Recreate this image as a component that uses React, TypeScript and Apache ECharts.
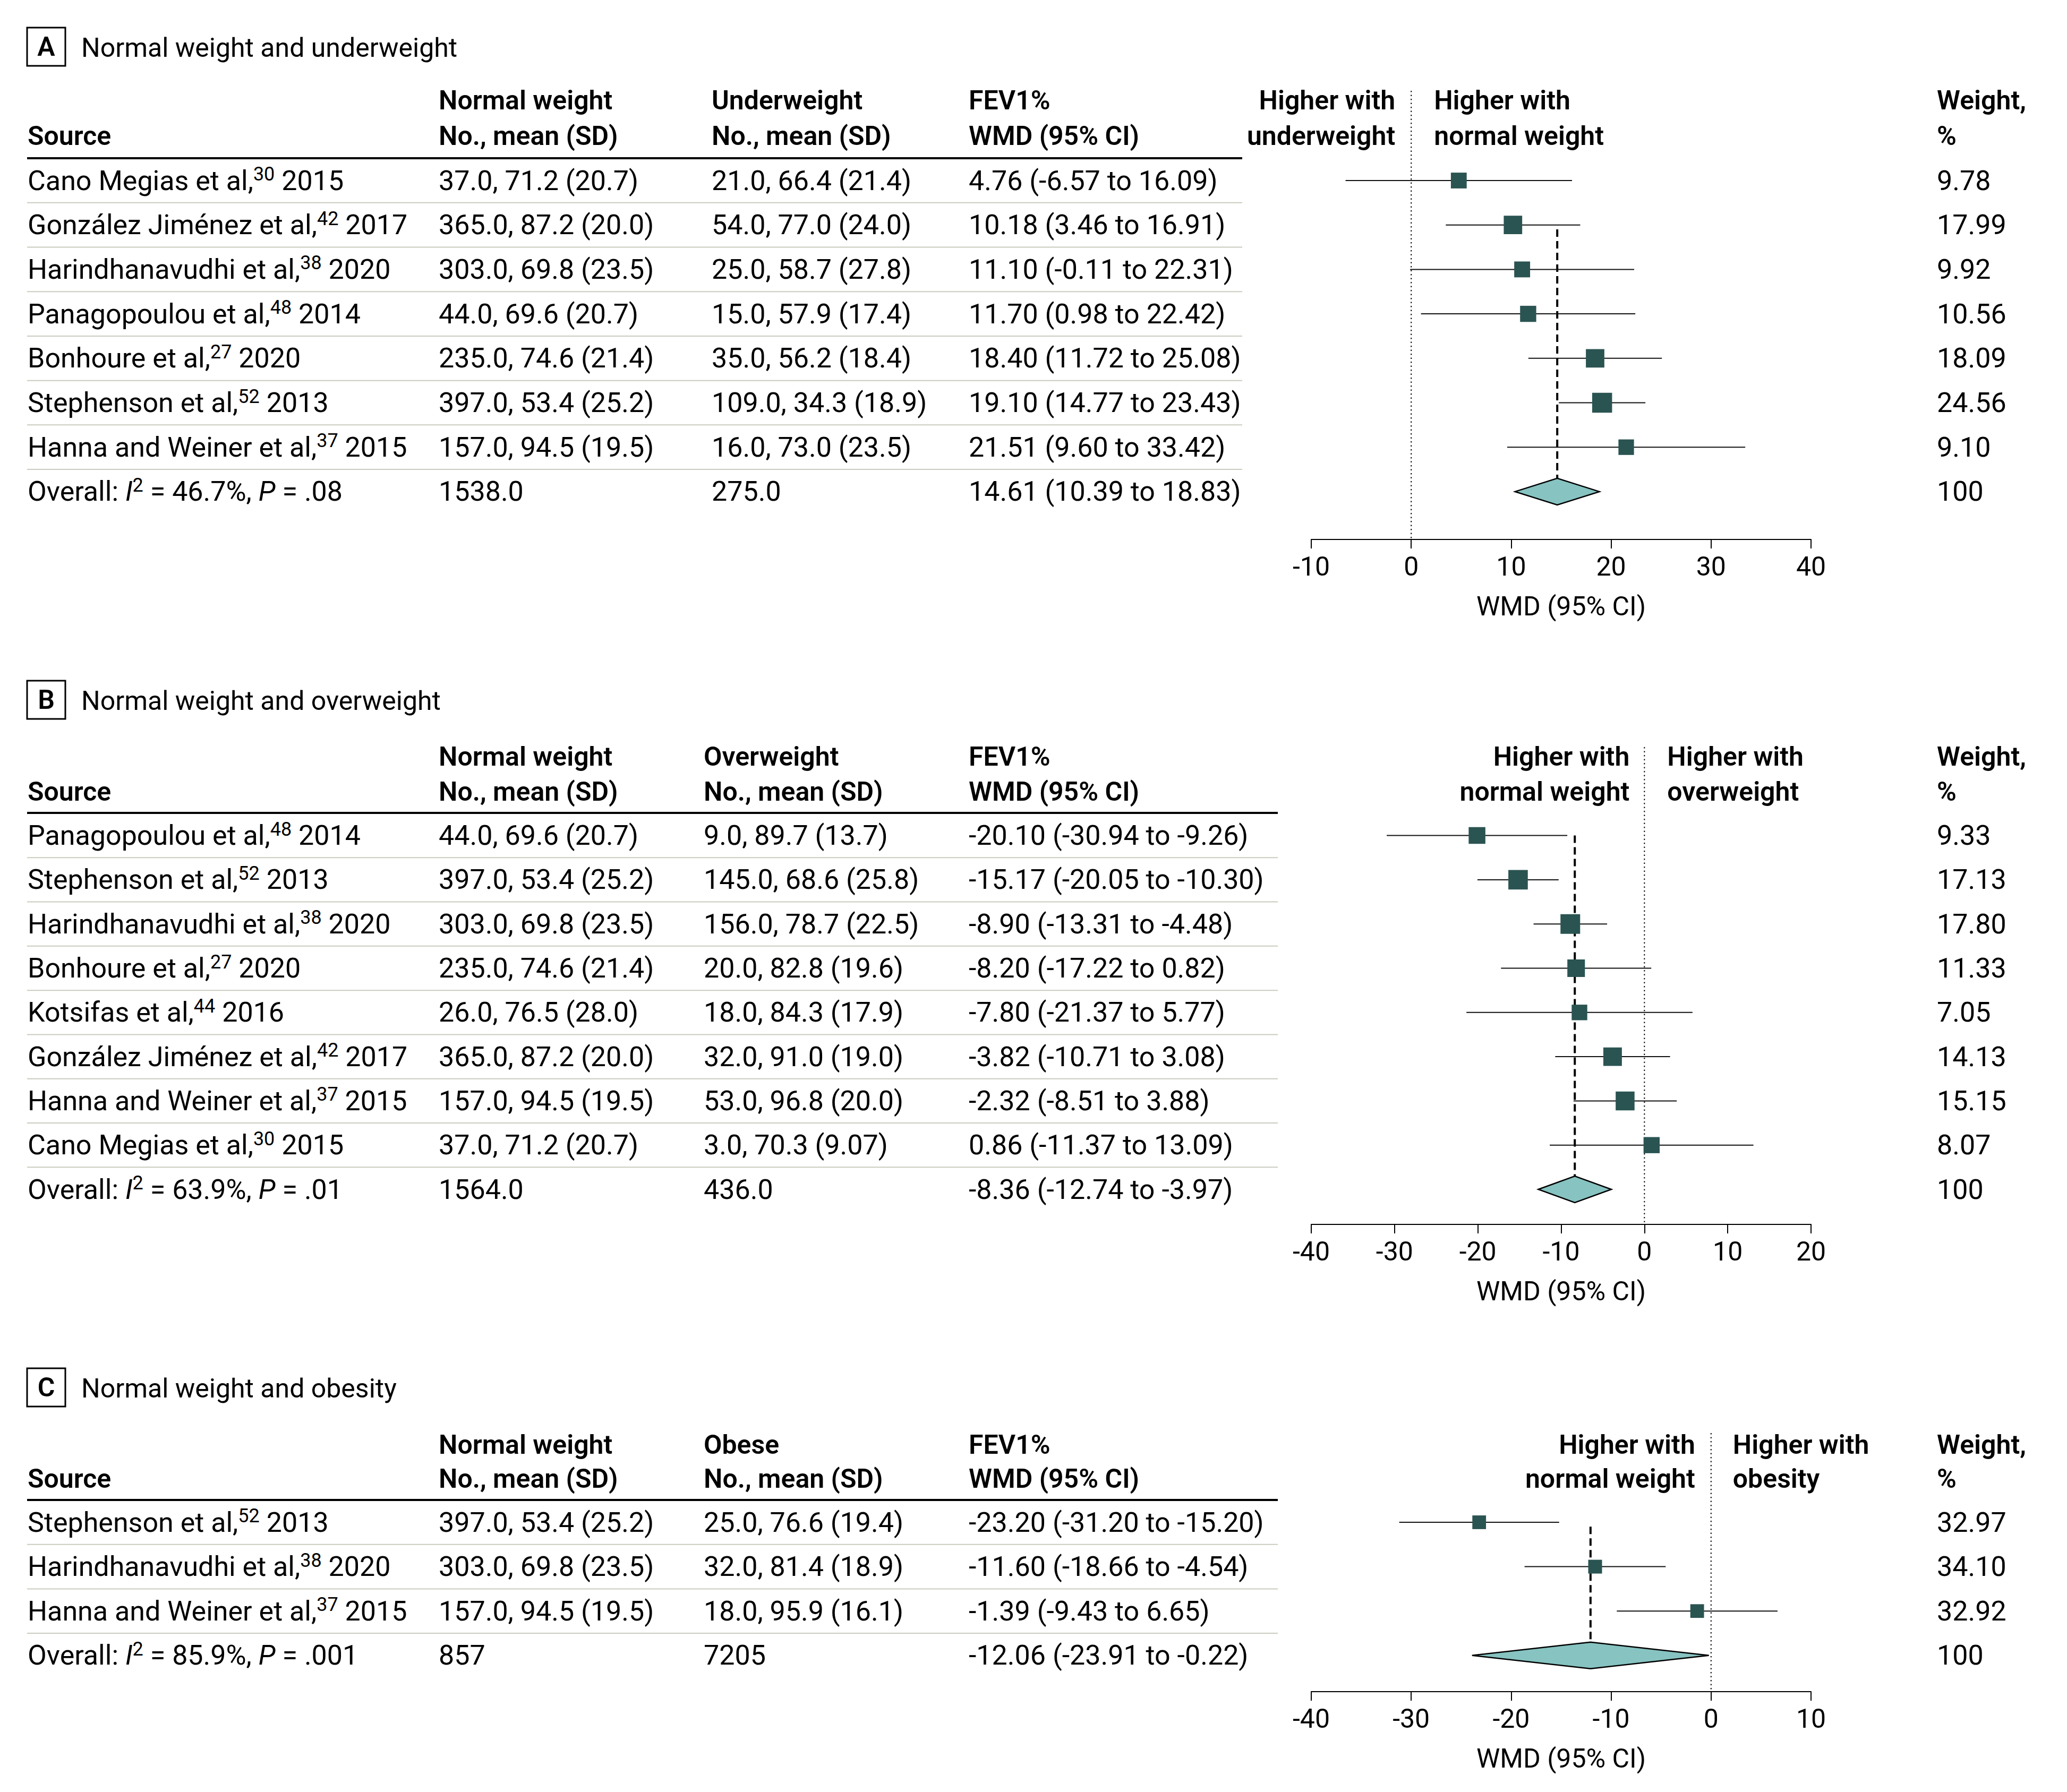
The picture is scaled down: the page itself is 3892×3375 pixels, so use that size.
import React, { useEffect, useRef } from "react";
import * as echarts from "echarts";

const FONT = "Roboto, 'Noto Sans', 'DejaVu Sans', sans-serif";
const FS = 52; // data text
const HFS = 50; // header text
const SUPFS = 36;
const SQUARE = "#2A5451";
const DIAMOND = "#86C3C1";
const SEP = "#C9CCBF";

// ---------- Panel A: normal weight vs underweight ----------
const A_SOURCES = ["Cano Megias et al,", "González Jiménez et al,", "Harindhanavudhi et al,", "Panagopoulou et al,", "Bonhoure et al,", "Stephenson et al,", "Hanna and Weiner et al,"];
const A_REFS = ["30", "42", "38", "48", "27", "52", "37"];
const A_YEARS = ["2015", "2017", "2020", "2014", "2020", "2013", "2015"];
const A_NORMAL = ["37.0, 71.2 (20.7)", "365.0, 87.2 (20.0)", "303.0, 69.8 (23.5)", "44.0, 69.6 (20.7)", "235.0, 74.6 (21.4)", "397.0, 53.4 (25.2)", "157.0, 94.5 (19.5)"];
const A_OTHER = ["21.0, 66.4 (21.4)", "54.0, 77.0 (24.0)", "25.0, 58.7 (27.8)", "15.0, 57.9 (17.4)", "35.0, 56.2 (18.4)", "109.0, 34.3 (18.9)", "16.0, 73.0 (23.5)"];
const A_EST = [4.76, 10.18, 11.1, 11.7, 18.4, 19.1, 21.51];
const A_LO = [-6.57, 3.46, -0.11, 0.98, 11.72, 14.77, 9.6];
const A_HI = [16.09, 16.91, 22.31, 22.42, 25.08, 23.43, 33.42];
const A_WEIGHTS = [9.78, 17.99, 9.92, 10.56, 18.09, 24.56, 9.1];
const A_OVERALL_STATS = ["46.7%", ".08"];
const A_OVERALL_N = ["1538.0", "275.0"];
const A_OVERALL_WMD = [14.61, 10.39, 18.83];
const A_AXIS = [-10, 40];

// ---------- Panel B: normal weight vs overweight ----------
const B_SOURCES = ["Panagopoulou et al,", "Stephenson et al,", "Harindhanavudhi et al,", "Bonhoure et al,", "Kotsifas et al,", "González Jiménez et al,", "Hanna and Weiner et al,", "Cano Megias et al,"];
const B_REFS = ["48", "52", "38", "27", "44", "42", "37", "30"];
const B_YEARS = ["2014", "2013", "2020", "2020", "2016", "2017", "2015", "2015"];
const B_NORMAL = ["44.0, 69.6 (20.7)", "397.0, 53.4 (25.2)", "303.0, 69.8 (23.5)", "235.0, 74.6 (21.4)", "26.0, 76.5 (28.0)", "365.0, 87.2 (20.0)", "157.0, 94.5 (19.5)", "37.0, 71.2 (20.7)"];
const B_OTHER = ["9.0, 89.7 (13.7)", "145.0, 68.6 (25.8)", "156.0, 78.7 (22.5)", "20.0, 82.8 (19.6)", "18.0, 84.3 (17.9)", "32.0, 91.0 (19.0)", "53.0, 96.8 (20.0)", "3.0, 70.3 (9.07)"];
const B_EST = [-20.1, -15.17, -8.9, -8.2, -7.8, -3.82, -2.32, 0.86];
const B_LO = [-30.94, -20.05, -13.31, -17.22, -21.37, -10.71, -8.51, -11.37];
const B_HI = [-9.26, -10.3, -4.48, 0.82, 5.77, 3.08, 3.88, 13.09];
const B_WEIGHTS = [9.33, 17.13, 17.8, 11.33, 7.05, 14.13, 15.15, 8.07];
const B_OVERALL_STATS = ["63.9%", ".01"];
const B_OVERALL_N = ["1564.0", "436.0"];
const B_OVERALL_WMD = [-8.36, -12.74, -3.97];
const B_AXIS = [-40, 20];

// ---------- Panel C: normal weight vs obesity ----------
const C_SOURCES = ["Stephenson et al,", "Harindhanavudhi et al,", "Hanna and Weiner et al,"];
const C_REFS = ["52", "38", "37"];
const C_YEARS = ["2013", "2020", "2015"];
const C_NORMAL = ["397.0, 53.4 (25.2)", "303.0, 69.8 (23.5)", "157.0, 94.5 (19.5)"];
const C_OTHER = ["25.0, 76.6 (19.4)", "32.0, 81.4 (18.9)", "18.0, 95.9 (16.1)"];
const C_EST = [-23.2, -11.6, -1.39];
const C_LO = [-31.2, -18.66, -9.43];
const C_HI = [-15.2, -4.54, 6.65];
const C_WEIGHTS = [32.97, 34.1, 32.92];
const C_OVERALL_STATS = ["85.9%", ".001"];
const C_OVERALL_N = ["857", "7205"];
const C_OVERALL_WMD = [-12.06, -23.91, -0.22];
const C_AXIS = [-40, 10];

const PANELS = [
  {
    letter: "A", title: "Normal weight and underweight", otherHeader: "Underweight",
    leftLabel: ["Higher with", "underweight"], rightLabel: ["Higher with", "normal weight"],
    sources: A_SOURCES, refs: A_REFS, years: A_YEARS, normal: A_NORMAL, other: A_OTHER,
    est: A_EST, lo: A_LO, hi: A_HI, weights: A_WEIGHTS,
    ovStats: A_OVERALL_STATS, ovN: A_OVERALL_N, ovWmd: A_OVERALL_WMD, axis: A_AXIS,
    // layout
    titleY: 90, h1: 189, h2: 256, ruleY: 298, ruleEnd: 2339, rowY0: 340, rowH: 83.7,
    plotTop: 171, axisY: 1016, col3X: 1340, dashStart: 1.1, squareBase: 37.5, leftGap: 30, rightGap: 43,
  },
  {
    letter: "B", title: "Normal weight and overweight", otherHeader: "Overweight",
    leftLabel: ["Higher with", "normal weight"], rightLabel: ["Higher with", "overweight"],
    sources: B_SOURCES, refs: B_REFS, years: B_YEARS, normal: B_NORMAL, other: B_OTHER,
    est: B_EST, lo: B_LO, hi: B_HI, weights: B_WEIGHTS,
    ovStats: B_OVERALL_STATS, ovN: B_OVERALL_N, ovWmd: B_OVERALL_WMD, axis: B_AXIS,
    titleY: 1320, h1: 1425, h2: 1491, ruleY: 1531, ruleEnd: 2406, rowY0: 1573.6, rowH: 83.3,
    plotTop: 1407, axisY: 2306, col3X: 1325, dashStart: 0, squareBase: 37, leftGap: 28, rightGap: 43,
  },
  {
    letter: "C", title: "Normal weight and obesity", otherHeader: "Obese",
    leftLabel: ["Higher with", "normal weight"], rightLabel: ["Higher with", "obesity"],
    sources: C_SOURCES, refs: C_REFS, years: C_YEARS, normal: C_NORMAL, other: C_OTHER,
    est: C_EST, lo: C_LO, hi: C_HI, weights: C_WEIGHTS,
    ovStats: C_OVERALL_STATS, ovN: C_OVERALL_N, ovWmd: C_OVERALL_WMD, axis: C_AXIS,
    titleY: 2615, h1: 2721, h2: 2785, ruleY: 2825, ruleEnd: 2406, rowY0: 2867, rowH: 83.6,
    plotTop: 2699, axisY: 3186, col3X: 1325, dashStart: 0.1, squareBase: 26, leftGap: 30, rightGap: 41,
  },
];

const X_SOURCE = 52;
const X_NORMAL = 826;
const X_WMD = 1824;
const X_WEIGHT = 3647;
const PLOT_LEFT = 2469;
const PLOT_W = 941;

const RICH = {
  sup: { fontSize: SUPFS, fontFamily: FONT, fill: "#000", lineHeight: 42, verticalAlign: "top" },
  it: { fontSize: FS, fontFamily: FONT, fontStyle: "italic", fill: "#000", lineHeight: 60 },
  n: { fontSize: FS, fontFamily: FONT, fill: "#000", lineHeight: 60 },
};

function txt(x: number, y: number, text: string, o: any = {}) {
  const align = o.align || "left";
  return {
    type: "text",
    x, y, silent: true, z: 10,
    style: {
      text,
      fill: "#000",
      fontSize: o.fontSize || FS,
      fontFamily: FONT,
      fontWeight: o.fontWeight || "normal",
      align, textAlign: align,
      verticalAlign: "middle", textVerticalAlign: "middle",
      lineHeight: o.rich ? 60 : undefined,
      rich: o.rich ? RICH : undefined,
    },
  };
}

function hline(x1: number, x2: number, y: number, stroke: string, w: number) {
  return { type: "line", silent: true, z: 5, shape: { x1, y1: y, x2, y2: y }, style: { stroke, lineWidth: w } };
}

const fmtWmd = (e: number, l: number, h: number) => `${e.toFixed(2)} (${l.toFixed(2)} to ${h.toFixed(2)})`;

function buildOption() {
  const grids: any[] = [];
  const xAxes: any[] = [];
  const yAxes: any[] = [];
  const series: any[] = [];
  const graphics: any[] = [];

  PANELS.forEach((p, gi) => {
    const n = p.sources.length;
    const yMin = (p.plotTop - p.rowY0) / p.rowH;
    const yMax = (p.axisY - p.rowY0) / p.rowH;
    const [xmin, xmax] = p.axis;

    grids.push({ left: PLOT_LEFT, width: PLOT_W, top: p.plotTop, height: p.axisY - p.plotTop, containLabel: false });
    xAxes.push({
      gridIndex: gi, type: "value", min: xmin, max: xmax, interval: 10,
      axisLine: { show: true, onZero: false, lineStyle: { color: "#000", width: 2 } },
      axisTick: { show: true, length: 17, lineStyle: { color: "#000", width: 2 } },
      axisLabel: { fontSize: 50, fontFamily: FONT, color: "#000", margin: 26 },
      splitLine: { show: false },
      name: "WMD (95% CI)", nameLocation: "middle", nameGap: 101,
      nameTextStyle: { fontSize: 50, fontFamily: FONT, color: "#000" },
    });
    yAxes.push({ gridIndex: gi, type: "value", inverse: true, min: yMin, max: yMax, show: false, splitLine: { show: false } });

    // zero reference (dotted)
    series.push({
      type: "custom", xAxisIndex: gi, yAxisIndex: gi, z: 1, silent: true,
      data: [[0, yMin, yMax]],
      renderItem: (params: any, api: any) => {
        const a = api.coord([api.value(0), api.value(1)]);
        const b = api.coord([api.value(0), api.value(2)]);
        return { type: "line", shape: { x1: a[0], y1: a[1], x2: b[0], y2: b[1] }, style: { stroke: "#000", lineWidth: 2, lineDash: [2.5, 5] } };
      },
    });
    // overall estimate (dashed)
    series.push({
      type: "custom", xAxisIndex: gi, yAxisIndex: gi, z: 2, silent: true,
      data: [[p.ovWmd[0], p.dashStart, n]],
      renderItem: (params: any, api: any) => {
        const a = api.coord([api.value(0), api.value(1)]);
        const b = api.coord([api.value(0), api.value(2)]);
        return { type: "line", shape: { x1: a[0], y1: a[1], x2: b[0], y2: b[1] - 25 }, style: { stroke: "#000", lineWidth: 4, lineDash: [14, 8] } };
      },
    });
    // studies
    const maxW = Math.max(...p.weights);
    series.push({
      type: "custom", xAxisIndex: gi, yAxisIndex: gi, z: 3, silent: true,
      data: p.est.map((e, i) => [e, p.lo[i], p.hi[i], i, p.weights[i]]),
      renderItem: (params: any, api: any) => {
        const r = api.value(3);
        const pl = api.coord([api.value(1), r]);
        const ph = api.coord([api.value(2), r]);
        const pe = api.coord([api.value(0), r]);
        const s = p.squareBase * Math.pow(api.value(4) / maxW, 0.25);
        return {
          type: "group",
          children: [
            { type: "line", shape: { x1: pl[0], y1: pl[1], x2: ph[0], y2: ph[1] }, style: { stroke: "#111", lineWidth: 2 } },
            { type: "rect", shape: { x: pe[0] - s / 2, y: pe[1] - s / 2, width: s, height: s }, style: { fill: SQUARE } },
          ],
        };
      },
    });
    // overall diamond
    series.push({
      type: "custom", xAxisIndex: gi, yAxisIndex: gi, z: 4, silent: true,
      data: [[p.ovWmd[0], p.ovWmd[1], p.ovWmd[2], n]],
      renderItem: (params: any, api: any) => {
        const r = api.value(3);
        const pe = api.coord([api.value(0), r]);
        const pl = api.coord([api.value(1), r]);
        const ph = api.coord([api.value(2), r]);
        return {
          type: "polygon",
          shape: { points: [[pl[0], pl[1]], [pe[0], pe[1] - 25], [ph[0], ph[1]], [pe[0], pe[1] + 25]] },
          style: { fill: DIAMOND, stroke: "#000", lineWidth: 2.5 },
        };
      },
    });

    // ---- title ----
    graphics.push({ type: "rect", silent: true, shape: { x: 51, y: p.titleY - 38, width: 72, height: 72 }, style: { fill: "none", stroke: "#000", lineWidth: 3 } });
    graphics.push(txt(87, p.titleY - 2, p.letter, { align: "center", fontSize: 50, fontWeight: 600 }));
    graphics.push(txt(153, p.titleY, p.title, { fontSize: 50 }));

    // ---- table header ----
    const hb = { fontSize: HFS, fontWeight: 600 };
    graphics.push(txt(X_SOURCE, p.h2, "Source", hb));
    graphics.push(txt(X_NORMAL, p.h1, "Normal weight", hb));
    graphics.push(txt(X_NORMAL, p.h2, "No., mean (SD)", hb));
    graphics.push(txt(p.col3X, p.h1, p.otherHeader, hb));
    graphics.push(txt(p.col3X, p.h2, "No., mean (SD)", hb));
    graphics.push(txt(X_WMD, p.h1, "FEV1%", hb));
    graphics.push(txt(X_WMD, p.h2, "WMD (95% CI)", hb));
    graphics.push(txt(X_WEIGHT, p.h1, "Weight,", hb));
    graphics.push(txt(X_WEIGHT, p.h2, "%", hb));
    const x0 = PLOT_LEFT + ((0 - xmin) / (xmax - xmin)) * PLOT_W;
    graphics.push(txt(x0 - p.leftGap, p.h1, p.leftLabel[0], { ...hb, align: "right" }));
    graphics.push(txt(x0 - p.leftGap, p.h2, p.leftLabel[1], { ...hb, align: "right" }));
    graphics.push(txt(x0 + p.rightGap, p.h1, p.rightLabel[0], hb));
    graphics.push(txt(x0 + p.rightGap, p.h2, p.rightLabel[1], hb));
    graphics.push(hline(51, p.ruleEnd, p.ruleY, "#000", 4));

    // ---- rows ----
    for (let i = 0; i < n; i++) {
      const y = p.rowY0 + i * p.rowH;
      graphics.push(txt(X_SOURCE, y, `{n|${p.sources[i]}}{sup|${p.refs[i]}}{n| ${p.years[i]}}`, { rich: true }));
      graphics.push(txt(X_NORMAL, y, p.normal[i]));
      graphics.push(txt(p.col3X, y, p.other[i]));
      graphics.push(txt(X_WMD, y, fmtWmd(p.est[i], p.lo[i], p.hi[i])));
      graphics.push(txt(X_WEIGHT, y, p.weights[i].toFixed(2)));
      graphics.push(hline(51, p.ruleEnd, y + p.rowH / 2, SEP, 2));
    }
    const yo = p.rowY0 + n * p.rowH;
    graphics.push(txt(X_SOURCE, yo, `{n|Overall: }{it|I}{sup|2}{n| = ${p.ovStats[0]}, }{it|P}{n| = ${p.ovStats[1]}}`, { rich: true }));
    graphics.push(txt(X_NORMAL, yo, p.ovN[0]));
    graphics.push(txt(p.col3X, yo, p.ovN[1]));
    graphics.push(txt(X_WMD, yo, fmtWmd(p.ovWmd[0], p.ovWmd[1], p.ovWmd[2])));
    graphics.push(txt(X_WEIGHT, yo, "100"));
  });

  return {
    animation: false,
    backgroundColor: "#fff",
    textStyle: { fontFamily: FONT },
    grid: grids,
    xAxis: xAxes,
    yAxis: yAxes,
    series,
    graphic: { elements: graphics },
  };
}

export default function App() {
  const ref = useRef<HTMLDivElement>(null);
  useEffect(() => {
    document.body.style.margin = "0";
    const chart = echarts.init(ref.current as HTMLDivElement, null, { renderer: "svg" });
    chart.setOption(buildOption() as any);
    return () => chart.dispose();
  }, []);
  return <div ref={ref} style={{ width: 3892, height: 3375, background: "#fff" }} />;
}
